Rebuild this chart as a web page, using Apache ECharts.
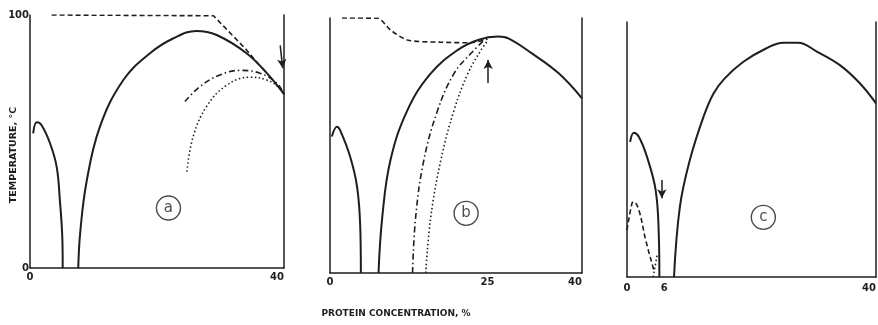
<!DOCTYPE html>
<html>
<head>
<meta charset="utf-8">
<script src="https://cdn.jsdelivr.net/npm/echarts@6/dist/echarts.min.js"></script>
<style>html,body{margin:0;padding:0;background:#fff}#c{width:878px;height:325px}</style>
</head>
<body>
<div id="c"></div>
<script>
// ---- data (x = protein concentration %, y = temperature °C) ----
const aSmall = [[0.5,53.2],[1.06,57.6],[1.8,56.5],[3.15,49.3],[4.2,40],[4.7,26.9],[5.1,11.1],[5.15,0]];
const aBig = [[7.6,0],[7.9,13.8],[8.9,34],[11.0,55.8],[14.7,74.3],[18.9,84.9],[22.6,90.8],[26.2,93.7],[29.4,92.1],[34.1,84.9],[37.3,77],[40,68.7]];
const aDashed = [[3.4,100],[28.9,99.7],[34.1,86.2],[36,80.5]];
const aDashDot = [[24.4,65.8],[26.8,71.8],[29.9,76.3],[33.1,78.1],[36.2,77],[38.9,73],[40,68.7]];
const aDotted = [[24.7,38.1],[25.7,52],[27.8,63.8],[31,72.3],[34.6,75.4],[37.3,74.3],[39.4,71],[40,68.7]];
const aArrow = [[39.4,88],[39.8,79]];
const aMark = [[21.8,23.7,'a']];

const bSmall = [[0.3,53.5],[1.1,57.4],[1.6,56],[3.2,45.6],[4.3,33.8],[4.8,18.2],[4.9,0]];
const bBig = [[7.7,0],[8.3,22],[9.6,44.3],[12.3,63.9],[16,78.3],[20.3,87.5],[23.5,91.4],[26.7,92.7],[28.3,92],[32,86.2],[36.3,78.3],[40,68.5]];
const bDashed = [[1.9,100],[7.5,99.9],[9.6,95.3],[12.3,91.4],[17.6,90.5],[22.4,90.3],[25,91.8]];
const bDashDot = [[13.1,0],[13.6,22],[14.9,44.3],[17.1,63.9],[19.7,78.3],[22.4,86.2],[24.5,91.4]];
const bDotted = [[15.2,0],[16,22],[17.6,44.3],[19.7,63.9],[21.9,78.3],[24,87.5],[25.1,91.4]];
const bArrow = [[25.1,74.5],[25.1,83.5]];
const bMark = [[21.6,23.4,'b']];

const cSmall = [[0.5,53],[1.1,56.6],[1.9,55],[3.2,47.2],[4.6,34.1],[5.1,17.1],[5.2,0]];
const cDashed = [[0,18.4],[0.8,28.9],[1.1,29.5],[1.9,26.3],[3.0,14.5],[4.0,5.4],[4.4,2]];
const cDotted = [[4.2,0],[4.5,4],[4.9,9.3]];
const cBig = [[7.55,0],[8.5,27.6],[10.1,45.9],[12.3,62.9],[13.9,72],[15.7,77.9],[18.7,84.4],[22.4,89.7],[25.1,91.9],[27.5,91.9],[30.5,88.4],[34.2,83.1],[37.4,76],[40,68.1]];
const cArrow = [[5.6,38],[5.6,30.9]];
const cMark = [[21.9,23.4,'c']];

const aXTicks = [0, 40];
const bXTicks = [0, 25, 40];
const cXTicks = [0, 6, 40];
const aYTicks = [0, 100];
const yTitle = 'TEMPERATURE, °C';
const xTitle = 'PROTEIN CONCENTRATION, %';

// ---- chart ----
const INK = '#1e1e1e';
const FONT = 'DejaVu Sans';
const grids = [
  {left: 30, top: 15, width: 254, height: 253, outerBoundsMode: 'none', containLabel: false},
  {left: 330, top: 18, width: 252, height: 255, outerBoundsMode: 'none', containLabel: false},
  {left: 627, top: 22, width: 249, height: 255, outerBoundsMode: 'none', containLabel: false}
];
const xTicks = [aXTicks, bXTicks, cXTicks];
const xMargins = [4, 4, 6];
const xAxes = [], yAxes = [];
grids.forEach((g, i) => {
  xAxes.push({
    type: 'value', gridIndex: i, min: 0, max: 40,
    axisLine: {show: true, lineStyle: {color: INK, width: 1.5}},
    axisTick: {show: false}, splitLine: {show: false},
    axisLabel: {customValues: xTicks[i], alignMaxLabel: 'right', color: INK, fontFamily: FONT, fontWeight: 'bold', fontSize: 10, margin: xMargins[i]}
  });
  yAxes.push({
    type: 'value', gridIndex: i, min: 0, max: 100,
    axisLine: {show: true, onZero: false, lineStyle: {color: INK, width: 1.5}},
    axisTick: {show: false}, splitLine: {show: false},
    axisLabel: i === 0 ? {customValues: aYTicks, color: INK, fontFamily: FONT, fontWeight: 'bold', fontSize: 10, margin: 1} : {show: false}
  });
  yAxes.push({
    type: 'value', gridIndex: i, min: 0, max: 100, position: 'right',
    axisLine: {show: true, onZero: false, lineStyle: {color: INK, width: 1.5}},
    axisTick: {show: false}, splitLine: {show: false}, axisLabel: {show: false}
  });
});

function line(data, i, type, width, smooth) {
  return {
    type: 'line', xAxisIndex: i, yAxisIndex: i * 2, data: data,
    showSymbol: false, symbol: 'none', smooth: smooth === undefined ? 0.4 : smooth,
    lineStyle: {color: INK, width: width, type: type}, silent: true, z: 3
  };
}
function arrow(pts, i) {
  return {
    type: 'line', xAxisIndex: i, yAxisIndex: i * 2, data: [], silent: true,
    markLine: {
      silent: true, symbol: ['none', 'arrow'], symbolSize: [7, 9],
      lineStyle: {color: INK, width: 1.5, type: 'solid'}, label: {show: false},
      data: [[{coord: pts[0]}, {coord: pts[1]}]]
    }
  };
}
function mark(data, i) {
  return {
    type: 'scatter', xAxisIndex: i, yAxisIndex: i * 2, data: data, symbol: 'circle', symbolSize: 24,
    itemStyle: {color: '#fff', borderColor: INK, borderWidth: 1.4}, silent: true, z: 4,
    label: {show: true, position: 'inside', formatter: p => p.value[2], color: INK, fontFamily: FONT, fontSize: 15}
  };
}
const DASH = [5, 3];
const DASHDOT = [6, 3, 1.5, 3];
const DOT = [1.5, 2.5];
const series = [
  line(aSmall, 0, 'solid', 2), line(aBig, 0, 'solid', 2), line(aDashed, 0, DASH, 1.6, false),
  line(aDashDot, 0, DASHDOT, 1.6), line(aDotted, 0, DOT, 1.6), arrow(aArrow, 0), mark(aMark, 0),
  line(bSmall, 1, 'solid', 2), line(bBig, 1, 'solid', 2), line(bDashed, 1, DASH, 1.6, 0.3),
  line(bDashDot, 1, DASHDOT, 1.6), line(bDotted, 1, DOT, 1.6), arrow(bArrow, 1), mark(bMark, 1),
  line(cSmall, 2, 'solid', 2), line(cDashed, 2, DASH, 1.6), line(cDotted, 2, DOT, 1.6),
  line(cBig, 2, 'solid', 2), arrow(cArrow, 2), mark(cMark, 2)
];

const chart = echarts.init(document.getElementById('c'), null, {renderer: 'canvas'});
chart.setOption({
  backgroundColor: '#fff',
  animation: false,
  grid: grids,
  xAxis: xAxes,
  yAxis: yAxes,
  series: series,
  graphic: [
    {type: 'text', x: 14, y: 155, rotation: Math.PI / 2,
     style: {text: yTitle, fill: INK, font: 'bold 9.5px "DejaVu Sans"', textAlign: 'center', textVerticalAlign: 'middle'}},
    {type: 'text', x: 396, y: 314,
     style: {text: xTitle, fill: INK, font: 'bold 9px "DejaVu Sans"', textAlign: 'center', textVerticalAlign: 'middle'}}
  ]
});
</script>
</body>
</html>
